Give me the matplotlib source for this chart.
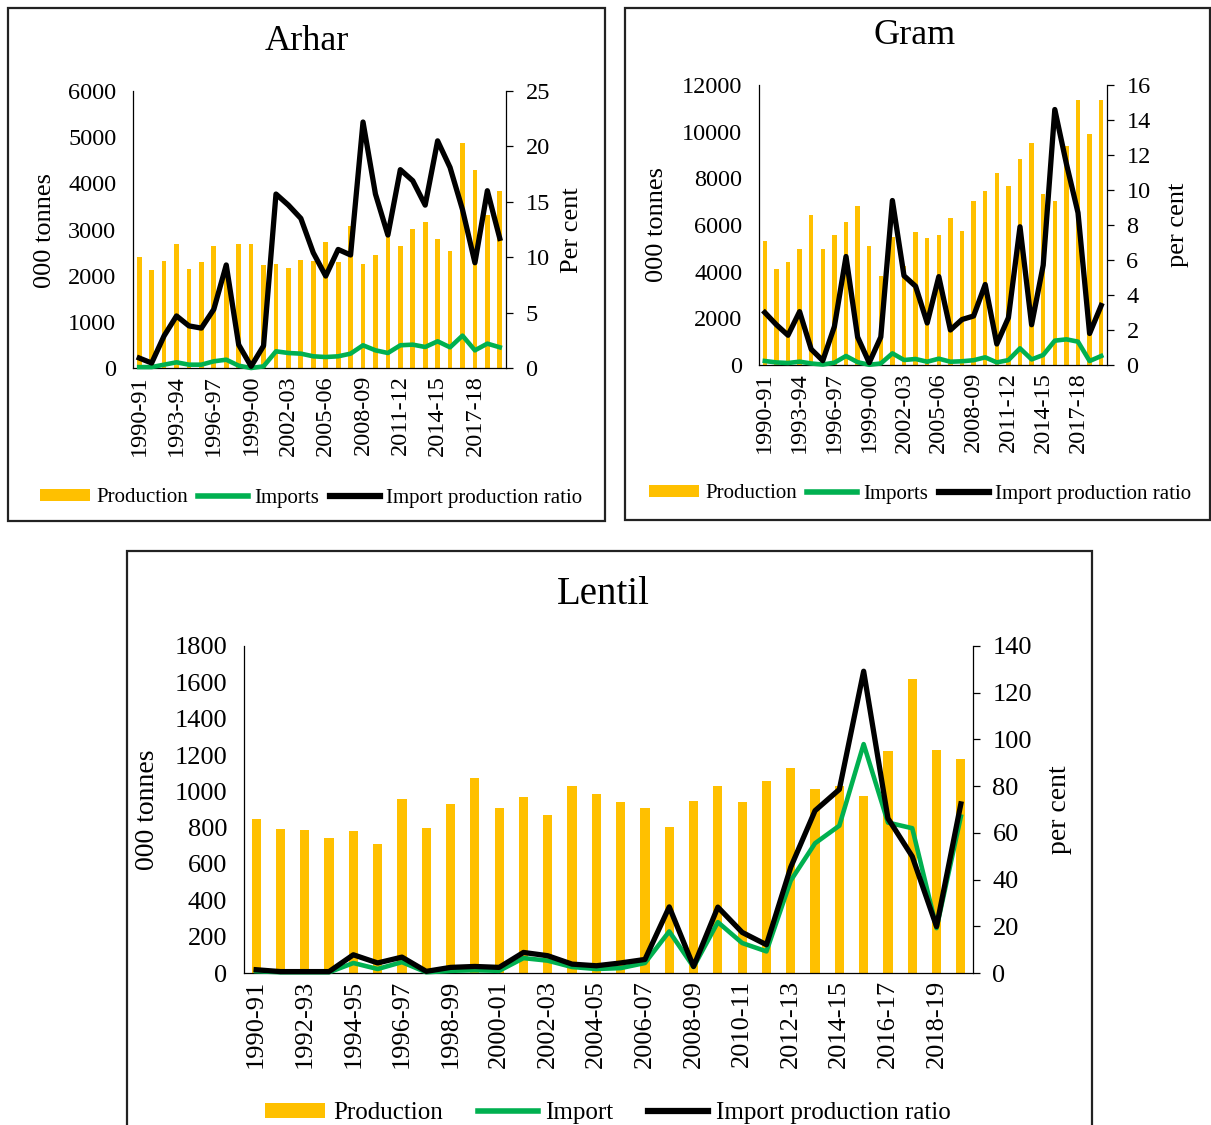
import numpy as np
import matplotlib.pyplot as plt
from matplotlib.patches import Patch, Rectangle
from matplotlib.lines import Line2D

plt.rcParams['font.family'] = ['Liberation Serif', 'DejaVu Serif']

years = ['1990-91', '1991-92', '1992-93', '1993-94', '1994-95', '1995-96', '1996-97',
         '1997-98', '1998-99', '1999-00', '2000-01', '2001-02', '2002-03', '2003-04',
         '2004-05', '2005-06', '2006-07', '2007-08', '2008-09', '2009-10', '2010-11',
         '2011-12', '2012-13', '2013-14', '2014-15', '2015-16', '2016-17', '2017-18',
         '2018-19', '2019-20']

# 000 tonnes
arhar_prod = [2407, 2133, 2320, 2689, 2140, 2306, 2653, 1940, 2696, 2689, 2234, 2248, 2176, 2342, 2320,
              2725, 2306, 3065, 2248, 2458, 2860, 2646, 3007, 3159, 2790, 2545, 4865, 4280, 3311, 3831]
arhar_imp = [20, 20, 72, 123, 72, 72, 145, 180, 50, 0, 36, 361, 325, 311, 253,
             238, 253, 311, 492, 383, 325, 492, 506, 455, 578, 448, 701, 383, 528, 448]
# per cent
arhar_ratio = [0.9, 0.45, 2.9, 4.7, 3.8, 3.6, 5.3, 9.3, 2.1, 0.15, 2.0, 15.7, 14.7, 13.5, 10.4,
               8.3, 10.7, 10.2, 22.2, 15.7, 12.0, 17.9, 16.9, 14.7, 20.5, 18.1, 14.3, 9.5, 16.0, 11.7]

gram_prod = [5329, 4100, 4400, 4957, 6414, 4957, 5557, 6114, 6800, 5100, 3829, 5470, 4240, 5686, 5443,
             5571, 6300, 5743, 7029, 7457, 8214, 7671, 8814, 9514, 7329, 7029, 9386, 11357, 9914, 11343]
gram_imp = [171, 110, 85, 143, 65, 20, 100, 386, 120, 10, 65, 500, 214, 257, 140,
            271, 140, 160, 205, 329, 110, 210, 714, 240, 429, 1043, 1100, 1000, 171, 386]
gram_ratio = [3.0, 2.3, 1.7, 3.05, 0.9, 0.25, 2.2, 6.2, 1.6, 0.13, 1.6, 9.4, 5.1, 4.5, 2.4,
              5.05, 2.0, 2.6, 2.8, 4.6, 1.2, 2.7, 7.9, 2.3, 5.7, 14.6, 11.5, 8.7, 1.8, 3.4]

lentil_prod = [846, 795, 787, 742, 780, 709, 956, 798, 932, 1073, 908, 969, 868, 1031, 987,
               943, 908, 806, 947, 1029, 939, 1055, 1130, 1013, 1031, 974, 1220, 1617, 1225, 1177]
lentil_imp = [10, 4, 4, 4, 55, 22, 60, 4, 12, 15, 12, 82, 68, 33, 22,
              27, 55, 229, 33, 280, 165, 119, 509, 714, 811, 1260, 828, 797, 247, 861]
lentil_ratio = [1.4, 0.6, 0.6, 0.6, 7.8, 4.3, 6.8, 0.7, 2.4, 2.8, 2.4, 8.8, 7.4, 3.8, 3.1,
                4.3, 5.8, 28.3, 2.8, 28.2, 17.4, 12.1, 45.3, 69.5, 78.6, 129.2, 66.2, 49.9, 19.9, 72.4]

GOLD = '#FFC000'
GREEN = '#00B050'

W, H = 1211, 1125
fig = plt.figure(figsize=(W / 100, H / 100), dpi=100)


def fx(px):
    return px / W


def fy(py):
    return 1 - py / H


def panel(box, axbox, title, title_xy, tsize, prod, imp, ratio, lmax, lstep, rmax, rstep,
          every, imp_lab, rlab, lab_x, lab_y, leg_xy, fs, lfs, labfs, colsp):
    # border round the whole panel
    x0, y0, x1, y1 = box
    fig.add_artist(Rectangle((fx(x0), fy(y1)), (x1 - x0) / W, (y1 - y0) / H,
                             transform=fig.transFigure, fill=False, ec='#222222', lw=1.6))
    l, t, r, b = axbox
    ax = fig.add_axes([fx(l), fy(b), (r - l) / W, (b - t) / H])
    x = np.arange(len(prod))
    ax.bar(x, prod, width=0.38, color=GOLD, zorder=2)
    ax.plot(x, imp, color=GREEN, lw=3.3, solid_joinstyle='round', zorder=3, clip_on=False)
    ax2 = ax.twinx()
    ax2.plot(x, ratio, color='black', lw=3.8, solid_joinstyle='round', clip_on=False)

    ax.set_xlim(-0.5, len(prod) - 0.5)
    ax.set_ylim(0, lmax)
    ax.set_yticks(np.arange(0, lmax + 1, lstep))
    ax2.set_ylim(0, rmax)
    ax2.set_yticks(np.arange(0, rmax + 0.1, rstep))
    ax.set_xticks(x[::every])
    ax.set_xticklabels(years[::every], rotation=90)

    for s in ['top', 'right']:
        ax.spines[s].set_visible(False)
    for s in ['top', 'left', 'bottom']:
        ax2.spines[s].set_visible(False)
    ax.spines['left'].set_linewidth(0.9)
    ax.spines['bottom'].set_linewidth(0.9)
    ax2.spines['right'].set_linewidth(0.9)

    ax.tick_params(axis='y', length=0, pad=12, labelsize=fs)
    ax.tick_params(axis='x', length=0, pad=5, labelsize=fs)
    ax2.tick_params(axis='y', length=5, width=0.9, pad=9, labelsize=fs)

    fig.text(fx(title_xy[0]), fy(title_xy[1]), title, ha='center', va='center', fontsize=tsize)
    fig.text(fx(lab_x[0]), fy(lab_y), '000 tonnes', rotation=90, ha='center', va='center',
             fontsize=labfs)
    fig.text(fx(lab_x[1]), fy(lab_y), rlab, rotation=90, ha='center', va='center', fontsize=labfs)

    handles = [Patch(facecolor=GOLD, edgecolor='none'),
               Line2D([], [], color=GREEN, lw=4),
               Line2D([], [], color='black', lw=4.5)]
    ax.legend(handles, ['Production', imp_lab, 'Import production ratio'], loc='center',
              bbox_to_anchor=(fx(leg_xy[0]), fy(leg_xy[1])), bbox_transform=fig.transFigure,
              ncol=3, frameon=False, fontsize=lfs, handlelength=2.4, handleheight=0.55,
              handletextpad=0.3, columnspacing=colsp, borderpad=0)
    return ax, ax2


panel((8, 8, 605, 521), (133, 91, 506, 368), 'Arhar', (307, 41), 26,
      arhar_prod, arhar_imp, arhar_ratio, 6000, 1000, 25, 5, 3, 'Imports', 'Per cent',
      (45, 572), 230, (311, 498), 17.5, 15, 19, 0.5)

panel((625, 8, 1210, 520), (759, 85, 1107, 365), 'Gram', (915, 36), 26,
      gram_prod, gram_imp, gram_ratio, 12000, 2000, 16, 2, 3, 'Imports', 'per cent',
      (657, 1178), 225, (920, 494), 17.5, 15, 19, 0.5)

panel((127, 551, 1092, 1140), (244, 646, 973, 973), 'Lentil', (603, 594), 28,
      lentil_prod, lentil_imp, lentil_ratio, 1800, 200, 140, 20, 2, 'Import', 'per cent',
      (148, 1060), 810, (608, 1113), 19, 18, 20, 1.4)

fig.savefig('out.png', dpi=100)
